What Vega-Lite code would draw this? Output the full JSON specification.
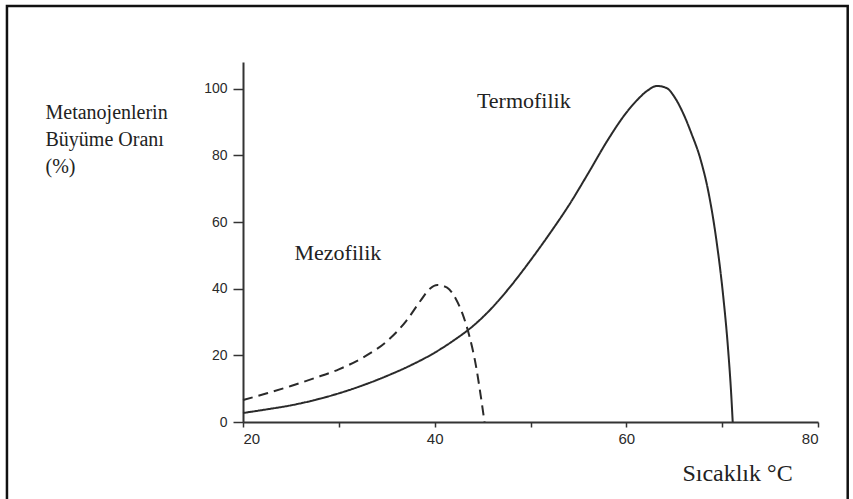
{
  "$schema": "https://vega.github.io/schema/vega-lite/v6.json",
  "autosize": {"type": "none"},
  "padding": {"left": 243, "top": 62, "right": 35, "bottom": 77},
  "width": 575,
  "height": 360,
  "background": "white",
  "config": {"view": {"stroke": null}},
  "datasets": {
    "curves": [
      {"series": "Termofilik", "temp": 20, "rate": 2.7},
      {"series": "Termofilik", "temp": 22.5, "rate": 3.8},
      {"series": "Termofilik", "temp": 25, "rate": 5},
      {"series": "Termofilik", "temp": 27.5, "rate": 6.6},
      {"series": "Termofilik", "temp": 30, "rate": 8.6},
      {"series": "Termofilik", "temp": 32.5, "rate": 11},
      {"series": "Termofilik", "temp": 35, "rate": 13.8},
      {"series": "Termofilik", "temp": 37.5, "rate": 17},
      {"series": "Termofilik", "temp": 40, "rate": 20.8},
      {"series": "Termofilik", "temp": 42, "rate": 24.5},
      {"series": "Termofilik", "temp": 44, "rate": 28.8},
      {"series": "Termofilik", "temp": 46, "rate": 34.3},
      {"series": "Termofilik", "temp": 48, "rate": 41},
      {"series": "Termofilik", "temp": 50, "rate": 48.5},
      {"series": "Termofilik", "temp": 52, "rate": 56.5},
      {"series": "Termofilik", "temp": 54, "rate": 65},
      {"series": "Termofilik", "temp": 56, "rate": 74.5},
      {"series": "Termofilik", "temp": 58, "rate": 84.3},
      {"series": "Termofilik", "temp": 60, "rate": 92.8},
      {"series": "Termofilik", "temp": 61.2, "rate": 96.8},
      {"series": "Termofilik", "temp": 62.2, "rate": 99.4},
      {"series": "Termofilik", "temp": 63.2, "rate": 100.8},
      {"series": "Termofilik", "temp": 64.2, "rate": 100.2},
      {"series": "Termofilik", "temp": 65, "rate": 97.6},
      {"series": "Termofilik", "temp": 65.9, "rate": 92.8},
      {"series": "Termofilik", "temp": 66.8, "rate": 86.5},
      {"series": "Termofilik", "temp": 67.7, "rate": 79.2},
      {"series": "Termofilik", "temp": 68.6, "rate": 68.5},
      {"series": "Termofilik", "temp": 69.4, "rate": 54.5},
      {"series": "Termofilik", "temp": 70.1, "rate": 38},
      {"series": "Termofilik", "temp": 70.6, "rate": 22.5},
      {"series": "Termofilik", "temp": 70.95, "rate": 8},
      {"series": "Termofilik", "temp": 71.1, "rate": 0},
      {"series": "Mezofilik", "temp": 20, "rate": 6.6},
      {"series": "Mezofilik", "temp": 22.5, "rate": 8.6},
      {"series": "Mezofilik", "temp": 25, "rate": 10.8},
      {"series": "Mezofilik", "temp": 27.5, "rate": 13.2},
      {"series": "Mezofilik", "temp": 30, "rate": 15.8},
      {"series": "Mezofilik", "temp": 32.5, "rate": 19.3},
      {"series": "Mezofilik", "temp": 35, "rate": 24.2},
      {"series": "Mezofilik", "temp": 37, "rate": 30.2},
      {"series": "Mezofilik", "temp": 38.5, "rate": 36.3},
      {"series": "Mezofilik", "temp": 39.5, "rate": 40},
      {"series": "Mezofilik", "temp": 40.3, "rate": 41.1},
      {"series": "Mezofilik", "temp": 41.3, "rate": 40.3},
      {"series": "Mezofilik", "temp": 42.2, "rate": 37},
      {"series": "Mezofilik", "temp": 42.9, "rate": 32.5},
      {"series": "Mezofilik", "temp": 43.6, "rate": 26},
      {"series": "Mezofilik", "temp": 44.3, "rate": 17},
      {"series": "Mezofilik", "temp": 44.8, "rate": 8},
      {"series": "Mezofilik", "temp": 45.2, "rate": 0}
    ],
    "labels": [
      {"label": "Termofilik", "temp": 49.3, "rate": 94.2},
      {"label": "Mezofilik", "temp": 29.9, "rate": 48.6}
    ]
  },
  "layer": [
    {
      "data": {"name": "curves"},
      "mark": {"type": "line", "interpolate": "monotone", "color": "#2a2a2a", "strokeWidth": 2},
      "encoding": {
        "x": {
          "field": "temp", "type": "quantitative",
          "scale": {"domain": [20, 80], "nice": false, "zero": false},
          "axis": {
            "title": "Sıcaklık °C",
            "values": [20, 30, 40, 50, 60, 70, 80],
            "labelExpr": "datum.value % 20 == 0 ? datum.label : ''",
            "grid": false,
            "domainColor": "#333", "domainWidth": 2,
            "tickColor": "#333", "tickWidth": 1.5, "tickSize": 5,
            "labelFont": "Liberation Sans", "labelFontSize": 15, "labelColor": "#2a2a2a", "labelPadding": 4,
            "titleFont": "Liberation Serif", "titleFontSize": 24, "titleFontWeight": "normal", "titleColor": "#222",
            "titleX": 494, "titleY": 58, "titleAlign": "center", "titleBaseline": "alphabetic"
          }
        },
        "y": {
          "field": "rate", "type": "quantitative",
          "scale": {"domain": [0, 108], "nice": false, "zero": false},
          "axis": {
            "title": ["Metanojenlerin", "Büyüme Oranı", "(%)"],
            "values": [0, 10, 20, 30, 40, 50, 60, 70, 80, 90, 100],
            "labelExpr": "datum.value % 20 == 0 ? datum.label : ''",
            "grid": false,
            "domainColor": "#333", "domainWidth": 2,
            "tickColor": "#333", "tickWidth": 1.5, "tickSize": 10,
            "labelFont": "Liberation Sans", "labelFontSize": 14, "labelColor": "#2a2a2a", "labelPadding": 6,
            "titleFont": "Liberation Serif", "titleFontSize": 20, "titleFontWeight": "normal", "titleColor": "#222",
            "titleAngle": 0, "titleAlign": "left", "titleBaseline": "top",
            "titleX": -198, "titleY": 40, "titleLineHeight": 27
          }
        },
        "strokeDash": {
          "field": "series", "type": "nominal",
          "scale": {"domain": ["Termofilik", "Mezofilik"], "range": [[1, 0], [10, 6]]},
          "legend": null
        }
      }
    },
    {
      "data": {"name": "labels"},
      "mark": {"type": "text", "font": "Liberation Serif", "fontSize": 22, "color": "#222", "align": "center", "baseline": "alphabetic"},
      "encoding": {
        "x": {"field": "temp", "type": "quantitative"},
        "y": {"field": "rate", "type": "quantitative"},
        "text": {"field": "label", "type": "nominal"}
      }
    },
    {
      "data": {"values": [{}]},
      "mark": {"type": "rect", "fill": null, "stroke": "#111", "strokeWidth": 2.5},
      "encoding": {
        "x": {"datum": -4.63, "type": "quantitative"},
        "x2": {"datum": 83.1},
        "y": {"datum": 124.8, "type": "quantitative"},
        "y2": {"datum": -28}
      }
    }
  ]
}
